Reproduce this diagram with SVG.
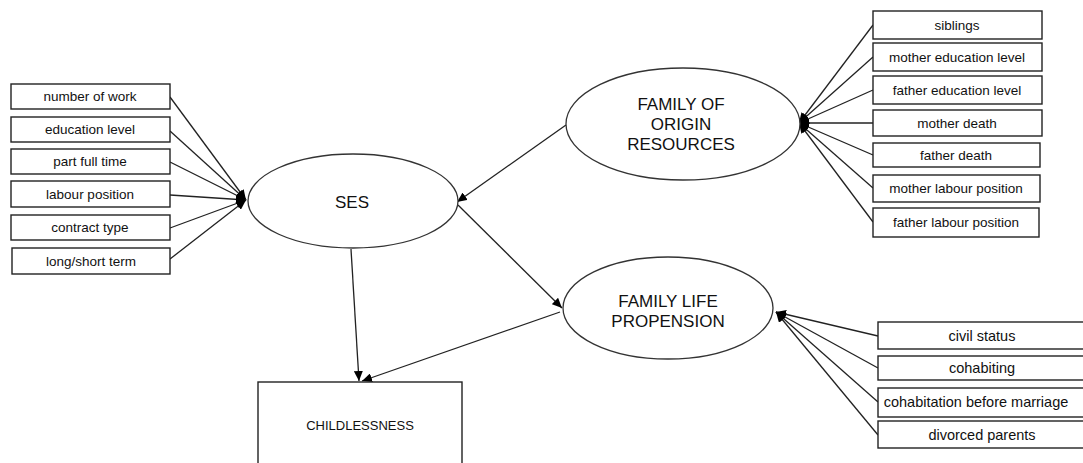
<svg xmlns="http://www.w3.org/2000/svg" width="1083" height="463" viewBox="0 0 1083 463">
<style>
.box{fill:#fff;stroke:#222;stroke-width:1.4}
.ell{fill:#fff;stroke:#333;stroke-width:1.3}
.lbl{font-family:"Liberation Sans",Arial,sans-serif;font-size:13.5px;fill:#111;text-anchor:middle}
.lbl2{font-family:"Liberation Sans",Arial,sans-serif;font-size:14.5px;fill:#111;text-anchor:middle}
.big{font-family:"Liberation Sans",Arial,sans-serif;font-size:17px;fill:#111;text-anchor:middle}
.cl{font-family:"Liberation Sans",Arial,sans-serif;font-size:13px;fill:#111;text-anchor:middle}
.ln{stroke:#222;stroke-width:1.3;fill:none;marker-end:url(#ah)}
</style>
<defs>
<marker id="ah" markerUnits="userSpaceOnUse" markerWidth="11" markerHeight="9" refX="10" refY="4.5" orient="auto">
<path d="M0,0 L10,4.5 L0,9 z" fill="#000"/>
</marker>
</defs>
<rect width="1083" height="463" fill="#fff"/>
<g id="connectors">
<line class="ln" x1="170" y1="97" x2="246" y2="200"/>
<line class="ln" x1="170" y1="131" x2="246" y2="200"/>
<line class="ln" x1="170" y1="162" x2="246" y2="200"/>
<line class="ln" x1="170" y1="195" x2="246" y2="200"/>
<line class="ln" x1="170" y1="228" x2="246" y2="200"/>
<line class="ln" x1="170" y1="259" x2="246" y2="200"/>
<line class="ln" x1="873" y1="25" x2="799" y2="123"/>
<line class="ln" x1="873" y1="57" x2="799" y2="123"/>
<line class="ln" x1="873" y1="90" x2="799" y2="123"/>
<line class="ln" x1="873" y1="123" x2="799" y2="123"/>
<line class="ln" x1="873" y1="155" x2="799" y2="123"/>
<line class="ln" x1="873" y1="188" x2="799" y2="123"/>
<line class="ln" x1="873" y1="222" x2="799" y2="123"/>
<line class="ln" x1="878" y1="336" x2="776" y2="312"/>
<line class="ln" x1="878" y1="368" x2="776" y2="312"/>
<line class="ln" x1="878" y1="402" x2="776" y2="312"/>
<line class="ln" x1="878" y1="435" x2="776" y2="312"/>
<line class="ln" x1="566" y1="125" x2="457" y2="202"/>
<line class="ln" x1="458" y1="205" x2="562" y2="308"/>
<line class="ln" x1="351" y1="249" x2="359" y2="381"/>
<line class="ln" x1="560" y1="312" x2="362" y2="381"/>
</g>
<g id="number-of-work"><rect class="box" x="11" y="84" width="159" height="25"/><text class="lbl" x="90" y="101">number of work</text></g>
<g id="education-level"><rect class="box" x="11" y="117" width="159" height="25"/><text class="lbl" x="90" y="134">education level</text></g>
<g id="part-full-time"><rect class="box" x="11" y="149" width="159" height="25"/><text class="lbl" x="90" y="166">part full time</text></g>
<g id="labour-position"><rect class="box" x="11" y="181" width="159" height="26"/><text class="lbl" x="90" y="199">labour position</text></g>
<g id="contract-type"><rect class="box" x="11" y="215" width="159" height="25"/><text class="lbl" x="90" y="232">contract type</text></g>
<g id="long-short-term"><rect class="box" x="12" y="248" width="158" height="26"/><text class="lbl" x="91" y="266">long/short term</text></g>
<g id="siblings"><rect class="box" x="873" y="11" width="169" height="28"/><text class="lbl" x="957" y="30">siblings</text></g>
<g id="mother-education-level"><rect class="box" x="873" y="43" width="169" height="28"/><text class="lbl" x="957" y="62">mother education level</text></g>
<g id="father-education-level"><rect class="box" x="873" y="76" width="169" height="28"/><text class="lbl" x="957" y="95">father education level</text></g>
<g id="mother-death"><rect class="box" x="873" y="110" width="169" height="26"/><text class="lbl" x="957" y="128">mother death</text></g>
<g id="father-death"><rect class="box" x="873" y="143" width="167" height="24"/><text class="lbl" x="956" y="160">father death</text></g>
<g id="mother-labour-position"><rect class="box" x="873" y="175" width="167" height="27"/><text class="lbl" x="956" y="193">mother labour position</text></g>
<g id="father-labour-position"><rect class="box" x="873" y="208" width="166" height="29"/><text class="lbl" x="956" y="227">father labour position</text></g>
<g id="civil-status"><rect class="box" x="878" y="322" width="210" height="27"/><text class="lbl2" x="982" y="341">civil status</text></g>
<g id="cohabiting"><rect class="box" x="878" y="356" width="210" height="24"/><text class="lbl2" x="982" y="373">cohabiting</text></g>
<g id="cohabitation-before-marriage"><rect class="box" x="878" y="388" width="210" height="29"/><text class="lbl2" x="976" y="407">cohabitation before marriage</text></g>
<g id="divorced-parents"><rect class="box" x="878" y="421" width="210" height="27"/><text class="lbl2" x="982" y="440">divorced parents</text></g>
<g id="ses"><ellipse class="ell" cx="353" cy="201" rx="105" ry="47"/><text class="big" x="352" y="208">SES</text></g>
<g id="family-of-origin-resources"><ellipse class="ell" cx="683" cy="124" rx="117" ry="56"/><text class="big" x="681" y="110">FAMILY OF</text><text class="big" x="681" y="130">ORIGIN</text><text class="big" x="681" y="150">RESOURCES</text></g>
<g id="family-life-propension"><ellipse class="ell" cx="668" cy="308" rx="105" ry="51"/><text class="big" x="668" y="307">FAMILY LIFE</text><text class="big" x="668" y="327">PROPENSION</text></g>
<g id="childlessness"><rect class="box" x="258" y="382" width="204" height="90"/><text class="cl" x="360" y="430">CHILDLESSNESS</text></g>
</svg>
